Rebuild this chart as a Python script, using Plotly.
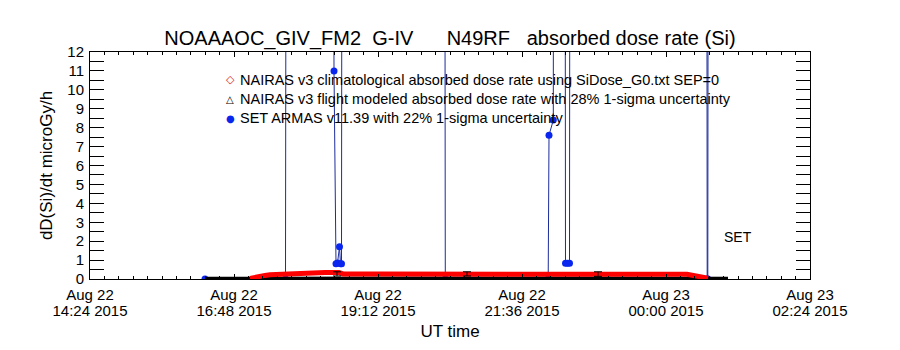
import pandas as pd
import plotly.graph_objects as go

FLIGHT_DAY = "2015-08-22"

# SET ARMAS v11.39 dose rate samples (UT); readings above 12 run off the top of the axis
set_ut = ["16:19:00", "17:39:30", "17:40:30", "18:27:00", "18:28:00", "18:30:00",
          "18:31:30", "18:33:30", "18:34:30", "18:35:30", "18:36:18", "20:18:30",
          "20:19:18", "22:02:12", "22:03:00", "22:07:18", "22:07:48", "22:18:48",
          "22:19:30", "22:21:30", "22:23:30", "22:24:12", "00:40:30", "00:41:12",
          "00:41:48", "00:42:30", "00:46:00"]
set_dose = [0, 0, 40, 40, 11, 0.8,
            0.85, 1.7, 0.8, 0.8, 40, 40,
            0, 0, 7.6, 8.4, 40, 40,
            0.83, 0.83, 0.83, 40, 40, 0,
            0, 40, 40]

# NAIRAS v3 climatological dose rate
clim_ut = ["17:04", "17:09", "17:14", "17:19", "17:24", "17:34", "17:42", "17:50",
           "18:04", "18:19", "18:33", "18:37", "19:14", "19:54", "20:34", "20:41",
           "20:48", "21:34", "22:24", "23:14", "23:54", "00:21", "00:26", "00:31",
           "00:36", "00:42"]
clim_dose = [0.03, 0.10, 0.15, 0.19, 0.22, 0.24, 0.25, 0.33,
             0.35, 0.35, 0.34, 0.27, 0.26, 0.26, 0.27, 0.29,
             0.27, 0.26, 0.26, 0.26, 0.26, 0.25, 0.20, 0.14,
             0.09, 0.04]

# NAIRAS v3 flight modeled dose rate
flight_ut = ["16:19", "17:04", "19:34", "22:54", "01:02"]
flight_dose = [0.04, 0.05, 0.05, 0.05, 0.04]

# 1-sigma uncertainty bars
sigma_ut = ["18:31", "20:41", "22:52"]
sigma_dose = [0.27, 0.27, 0.26]
sigma_err = [0.11, 0.11, 0.12]

x_start = "2015-08-22 14:24"
x_end = "2015-08-23 02:24"
y_tick_values = list(range(0, 13))

legend_names = [
    "NAIRAS v3 climatological absorbed dose rate using SiDose_G0.txt SEP=0",
    "NAIRAS v3 flight modeled absorbed dose rate with 28% 1-sigma uncertainty",
    "SET ARMAS v11.39 with 22% 1-sigma uncertainty",
]
legend_glyphs = ["\u25c7", "\u25b3", "\u25cf"]

TITLE = ("NOAAAOC_GIV_FM2\u00a0 G-IV\u00a0\u00a0\u00a0\u00a0\u00a0 N49RF"
         "\u00a0\u00a0 absorbed dose rate (Si)")

FONT = "Liberation Sans"
BLUE_LINE = "#1c2c9c"
BLUE_MARK = "#0a26ee"
LEGEND_COLORS = ["#d81818", "black", BLUE_MARK]


def to_time(ut_list):
    """UT clock strings -> timestamps; the flight crosses midnight into Aug 23."""
    out = []
    for s in ut_list:
        t = pd.Timestamp(f"{FLIGHT_DAY} {s}")
        if t.hour < 12:
            t += pd.Timedelta(days=1)
        out.append(t)
    return out


fig = go.Figure()

fig.add_trace(go.Scatter(
    x=to_time(set_ut), y=set_dose, mode="lines+markers", name=legend_names[2],
    line=dict(color=BLUE_LINE, width=1),
    marker=dict(color=BLUE_MARK, size=7, symbol="circle"),
    showlegend=False, hoverinfo="skip"))

fig.add_trace(go.Scatter(
    x=to_time(flight_ut), y=flight_dose, mode="lines", name=legend_names[1],
    line=dict(color="black", width=3),
    showlegend=False, hoverinfo="skip"))

fig.add_trace(go.Scatter(
    x=to_time(clim_ut), y=clim_dose, mode="lines", name=legend_names[0],
    line=dict(color="#ff0000", width=5),
    showlegend=False, hoverinfo="skip"))

fig.add_trace(go.Scatter(
    x=to_time(sigma_ut), y=sigma_dose, mode="markers",
    marker=dict(size=2, color="rgba(0,0,0,0)"),
    error_y=dict(type="data", array=sigma_err, color="black", thickness=1, width=4),
    showlegend=False, hoverinfo="skip"))

# second bottom axis carrying the date line of the two-line time labels
fig.add_trace(go.Scatter(x=[], y=[], xaxis="x2", showlegend=False, hoverinfo="skip"))

# key: symbol + description, one row per series
row_px = [80, 99, 118]
glyph_sizes = [11, 10, 10]
for glyph, gsize, name, color, ypx in zip(legend_glyphs, glyph_sizes, legend_names,
                                         LEGEND_COLORS, row_px):
    yp = (279 - ypx) / 227
    fig.add_annotation(x=(230 - 90) / 720, y=yp, xref="paper", yref="paper",
                       text=glyph, showarrow=False, xanchor="center", yanchor="middle",
                       font=dict(family="DejaVu Sans", size=gsize, color=color))
    fig.add_annotation(x=(238 - 90) / 720, y=yp, xref="paper", yref="paper",
                       text=name, showarrow=False, xanchor="left", yanchor="middle",
                       font=dict(family=FONT, size=14.5, color="black"))

fig.add_annotation(x=to_time(["01:12"])[0], y=2.2, xref="x", yref="y", text="SET",
                   showarrow=False, font=dict(family=FONT, size=14, color="black"))

tick_ms = 144 * 60 * 1000
minor_ms = tick_ms // 10

fig.update_layout(
    width=900, height=350,
    margin=dict(l=90, r=90, t=52, b=71, autoexpand=False),
    paper_bgcolor="white", plot_bgcolor="white",
    font=dict(family=FONT, color="black"),
    title=dict(text=TITLE, x=0.5, xanchor="center", y=1 - 37.5 / 350, yanchor="middle",
               font=dict(family=FONT, size=20, color="black")),
    showlegend=False,
    xaxis=dict(
        type="date", range=[x_start, x_end], tickmode="linear", tick0=x_start, dtick=tick_ms,
        tickformat="%H:%M %Y", ticks="inside", ticklen=5, tickwidth=1, tickcolor="black",
        mirror="allticks", showline=True, linecolor="black", linewidth=1,
        showgrid=False, zeroline=False, ticklabelstandoff=18,
        tickfont=dict(family=FONT, size=15, color="black"),
        minor=dict(tick0=x_start, dtick=minor_ms, ticks="inside", ticklen=3,
                   tickcolor="black", tickwidth=1, showgrid=False),
        title=dict(text="UT time", font=dict(family=FONT, size=17, color="black"), standoff=7),
    ),
    xaxis2=dict(
        type="date", range=[x_start, x_end], overlaying="x", anchor="y", side="bottom",
        tickmode="linear", tick0=x_start, dtick=tick_ms, tickformat="%b %d",
        ticks="", showline=False, showgrid=False, zeroline=False, ticklabelstandoff=5,
        tickfont=dict(family=FONT, size=15, color="black"),
    ),
    yaxis=dict(
        range=[0, 12], tickmode="array", tickvals=y_tick_values,
        ticks="inside", ticklen=14, tickwidth=1, tickcolor="black",
        mirror="allticks", showline=True, linecolor="black", linewidth=1,
        showgrid=False, zeroline=False, ticklabelstandoff=2,
        tickfont=dict(family=FONT, size=15, color="black"),
        minor=dict(tick0=0, dtick=0.5, ticks="inside", ticklen=6,
                   tickcolor="black", tickwidth=1, showgrid=False),
        title=dict(text="dD(Si)/dt microGy/h", font=dict(family=FONT, size=17, color="black"),
                   standoff=10),
    ),
)

fig.write_html("out.html")
